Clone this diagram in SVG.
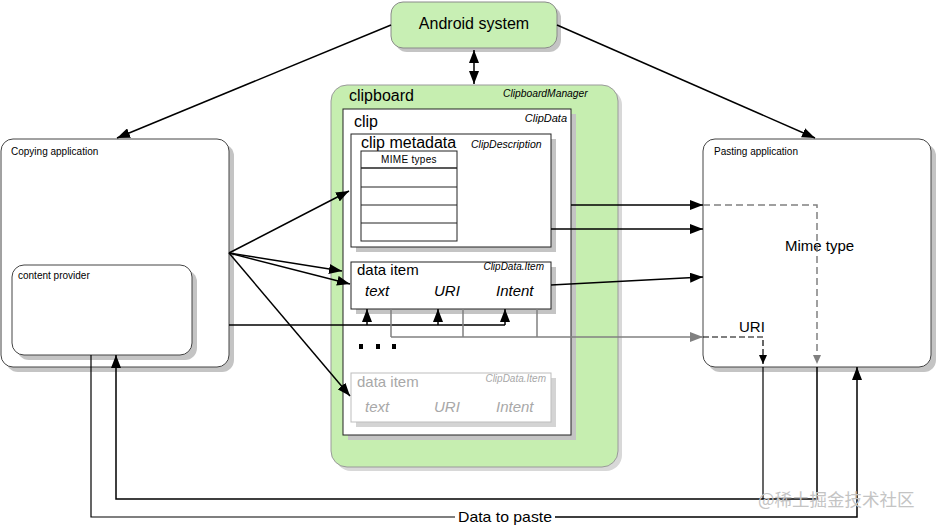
<svg xmlns="http://www.w3.org/2000/svg" width="936" height="527" viewBox="0 0 936 527">
<style>
text{font-family:"Liberation Sans",Arial,sans-serif;fill:#000}
.it{font-style:italic}
.gr{fill:#a8a8a8}
.sh{fill:#c4c4c4}
.ln{fill:none;stroke:#000;stroke-width:1.5}
.thin{fill:none;stroke:#000;stroke-width:1.2}
.gl{fill:none;stroke:#808080;stroke-width:1.5}
.dash{fill:none;stroke:#808080;stroke-width:1.5;stroke-dasharray:7,4}
.bdash{fill:none;stroke:#000;stroke-width:1.2;stroke-dasharray:6,3}
</style>
<defs>
<marker id="a" markerUnits="userSpaceOnUse" markerWidth="14" markerHeight="10" refX="13" refY="5" orient="auto-start-reverse"><path d="M0,0 L13,5 L0,10 z" fill="#000"/></marker>
<marker id="ag" markerUnits="userSpaceOnUse" markerWidth="14" markerHeight="10" refX="13" refY="5" orient="auto"><path d="M0,0 L13,5 L0,10 z" fill="#808080"/></marker>
<marker id="as" markerUnits="userSpaceOnUse" markerWidth="10" markerHeight="8" refX="9" refY="4" orient="auto"><path d="M0,0 L9,4 L0,8 z" fill="#000"/></marker>
<marker id="asg" markerUnits="userSpaceOnUse" markerWidth="10" markerHeight="8" refX="9" refY="4" orient="auto"><path d="M0,0 L9,4 L0,8 z" fill="#808080"/></marker>
</defs>
<rect width="936" height="527" fill="#fff"/>

<g id="android-system">
<rect x="395" y="6" width="166" height="46" rx="12" class="sh"/>
<rect x="391" y="2" width="166" height="46" rx="12" fill="#c8efb4" stroke="#8a8a8a"/>
<text x="474" y="29" font-size="16" text-anchor="middle">Android system</text>
</g>

<g id="copying-application">
<rect x="6" y="144" width="228" height="228" rx="12" class="sh"/>
<rect x="1" y="139" width="228" height="228" rx="12" fill="#fff" stroke="#444"/>
<text x="11" y="155" font-size="10">Copying application</text>
</g>
<g id="content-provider">
<rect x="17" y="270" width="180" height="90" rx="12" class="sh"/>
<rect x="12" y="265" width="180" height="90" rx="12" fill="#fff" stroke="#444"/>
<text x="18" y="279" font-size="10">content provider</text>
</g>

<g id="pasting-application">
<rect x="708" y="144" width="228" height="228" rx="12" class="sh"/>
<rect x="703" y="139" width="228" height="228" rx="12" fill="#fff" stroke="#444"/>
<text x="714" y="155" font-size="10">Pasting application</text>
<text x="785" y="251" font-size="15">Mime type</text>
<text x="739" y="332" font-size="15">URI</text>
</g>

<g id="clipboard">
<rect x="335" y="89" width="287" height="382" rx="16" fill="#d8d8d8"/>
<rect x="331" y="85" width="287" height="382" rx="16" fill="#c6eeb0" stroke="#9a9a9a"/>
<text x="349" y="101" font-size="16">clipboard</text>
<text x="503" y="97" font-size="10.3" class="it">ClipboardManager</text>
</g>

<g id="clip">
<rect x="348" y="114" width="228" height="326" class="sh"/>
<rect x="343" y="109" width="228" height="326" fill="#fff" stroke="#222"/>
<text x="354" y="127" font-size="16">clip</text>
<text x="567" y="122" font-size="11" class="it" text-anchor="end">ClipData</text>
</g>

<g id="clip-metadata">
<rect x="356" y="139" width="200" height="113" class="sh"/>
<rect x="351" y="134" width="200" height="113" fill="#fff" stroke="#222"/>
<text x="361" y="148" font-size="16">clip metadata</text>
<text x="471" y="148" font-size="10.5" class="it">ClipDescription</text>
<rect x="361" y="151" width="96" height="90" fill="#fff" stroke="#222"/>
<line x1="361" y1="168" x2="457" y2="168" stroke="#222" stroke-width="1.5"/>
<line x1="361" y1="187" x2="457" y2="187" stroke="#222"/>
<line x1="361" y1="205" x2="457" y2="205" stroke="#222"/>
<line x1="361" y1="223" x2="457" y2="223" stroke="#222"/>
<text x="409" y="163" font-size="10" text-anchor="middle" letter-spacing="0.3">MIME types</text>
</g>

<g id="data-item">
<rect x="356" y="267" width="200" height="47" class="sh"/>
<rect x="351" y="262" width="200" height="47" fill="#fff" stroke="#222"/>
<text x="357" y="275" font-size="15">data item</text>
<text x="544" y="270" font-size="10" class="it" text-anchor="end">ClipData.Item</text>
<text x="365" y="296" font-size="15" class="it">text</text>
<text x="434" y="296" font-size="15" class="it">URI</text>
<text x="496" y="296" font-size="15" class="it">Intent</text>
</g>

<g id="ellipsis">
<rect x="359" y="344" width="4" height="5" fill="#000"/>
<rect x="376" y="344" width="4" height="5" fill="#000"/>
<rect x="392" y="344" width="4" height="5" fill="#000"/>
</g>

<g id="data-item-2">
<rect x="356" y="378" width="200" height="49" fill="#d4d4d4"/>
<rect x="351" y="373" width="200" height="49" fill="#fff" stroke="#bdbdbd"/>
<text x="357" y="387" font-size="15" class="gr">data item</text>
<text x="546" y="382" font-size="10" class="it gr" text-anchor="end">ClipData.Item</text>
<text x="365" y="412" font-size="15" class="it gr">text</text>
<text x="434" y="412" font-size="15" class="it gr">URI</text>
<text x="496" y="412" font-size="15" class="it gr">Intent</text>
</g>

<g id="connectors">
<line x1="391" y1="25" x2="117" y2="138" class="ln" marker-end="url(#a)"/>
<line x1="557" y1="25" x2="815" y2="138" class="ln" marker-end="url(#a)"/>
<line x1="474" y1="50" x2="474" y2="84" class="ln" marker-start="url(#a)" marker-end="url(#a)"/>

<line x1="229" y1="253" x2="349" y2="191" class="ln" marker-end="url(#a)"/>
<line x1="229" y1="253" x2="342" y2="271" class="ln" marker-end="url(#a)"/>
<line x1="229" y1="253" x2="350" y2="284" class="ln" marker-end="url(#a)"/>
<line x1="229" y1="253" x2="350" y2="396" class="ln" marker-end="url(#a)"/>

<polyline points="229,325 505,325" class="ln"/>
<line x1="367" y1="325" x2="367" y2="309" class="ln" marker-end="url(#a)"/>
<line x1="438" y1="325" x2="438" y2="309" class="ln" marker-end="url(#a)"/>
<line x1="505" y1="325" x2="505" y2="309" class="ln" marker-end="url(#a)"/>

<polyline points="391,309 391,337" class="gl"/>
<polyline points="463,309 463,337" class="gl"/>
<polyline points="537,309 537,337" class="gl"/>
<line x1="391" y1="337" x2="703" y2="337" class="gl" marker-end="url(#ag)"/>
<polyline points="703,337 763,337 763,364" class="bdash" marker-end="url(#as)"/>

<line x1="571" y1="205" x2="703" y2="205" class="ln" marker-end="url(#a)"/>
<line x1="551" y1="229" x2="703" y2="229" class="ln" marker-end="url(#a)"/>
<line x1="551" y1="285" x2="703" y2="277" class="ln" marker-end="url(#a)"/>
<polyline points="703,205 817,205 817,364" class="dash" marker-end="url(#asg)"/>

<polyline points="763,367 763,499" class="thin"/>
<polyline points="817,367 817,499 116,499 116,355" class="ln" marker-end="url(#a)"/>
<polyline points="91,355 91,517 455,517" class="thin"/>
<polyline points="555,517 857,517 857,367" class="ln" marker-end="url(#a)"/>
<text x="505" y="522" font-size="15" text-anchor="middle" textLength="94" lengthAdjust="spacingAndGlyphs">Data to paste</text>
</g>

<text x="758" y="506" font-size="17.5" style="fill:#c4c4c4;font-family:'Noto Sans CJK SC',sans-serif">@稀土掘金技术社区</text>
</svg>
